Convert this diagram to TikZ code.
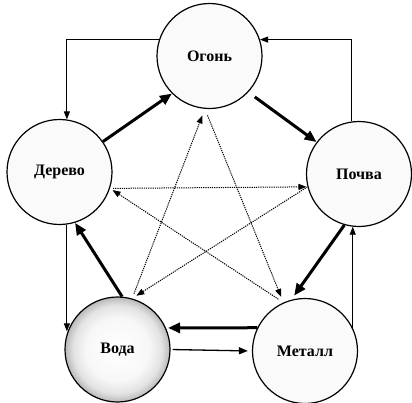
\documentclass[tikz,border=0pt]{standalone}
\usepackage{fontspec}
\setmainfont{Liberation Serif}
\usetikzlibrary{arrows.meta}
\pgfdeclareradialshading{vodashade}{\pgfpoint{0bp}{0bp}}{color(0bp)=(white); color(15bp)=(gray!6); color(21bp)=(gray!22); color(25bp)=(gray!55); color(50bp)=(gray!55)}
\begin{document}
\begin{tikzpicture}[x=1pt,y=-1pt,
  elem/.style={circle, draw, line width=1.2pt, minimum size=105pt, inner sep=0pt,
    fill=gray!4, font=\bfseries\fontsize{16}{19}\selectfont},
  outerarr/.style={line width=0.9pt, -{Triangle[length=8pt,width=6pt]}},
  midarr/.style={line width=1.3pt, -{Triangle[length=9pt,width=7pt]}},
  thickarr/.style={line width=3pt, -{Triangle[length=12pt,width=10pt]}},
  dotarr/.style={line width=1pt, dash pattern=on 1.2pt off 1pt, -{Triangle[length=8pt,width=6pt]}}
]
\useasboundingbox (0,0) rectangle (412,402);
\fill[white] (0,0) rectangle (412,402);

\node[elem] (O) at (209.5,56) {Огонь};
\node[elem] (D) at (59.5,172) {Дерево};
\node[elem] (P) at (359,174) {Почва};
\node[elem, shading=vodashade] (V) at (117.5,349.5) {Вода};
\node[elem] (M) at (305,351) {Металл};

% outer thin arrows
\draw[outerarr] (O.162) -| (D.82);
\draw[outerarr] (P.98) |- (O.18);
\draw[outerarr] (D.-82) -- (D.-82 |- V.160);
\draw[outerarr] (M.26) -- (M.26 |- P.-97);
\draw[midarr, shorten <=2pt, shorten >=4pt] (V.0) -- (M.180);

% thick arrows
\draw[thickarr] (D.35) -- (O.225);
\draw[thickarr, shorten <=8pt] (O.-43) -- (P.143);
\draw[thickarr, shorten >=5pt] (P.-106) -- (M.105);
\draw[thickarr, shorten >=2pt] (M.154) -- (V.24);
\draw[thickarr] (V.85) -- (D.-73);

% dotted star
\draw[dotarr, shorten <=5pt, shorten >=7pt] (V.74) -- (O.-95);
\draw[dotarr, shorten <=7pt, shorten >=6pt] (O.-95) -- (M.114);
\draw[dotarr, shorten <=6pt, shorten >=3pt] (M.114) -- (D.-18);
\draw[dotarr, shorten <=3pt, shorten >=1pt] (D.-18) -- (P.194);
\draw[dotarr, shorten >=5pt] (P.194) -- (V.74);
\end{tikzpicture}
\end{document}
